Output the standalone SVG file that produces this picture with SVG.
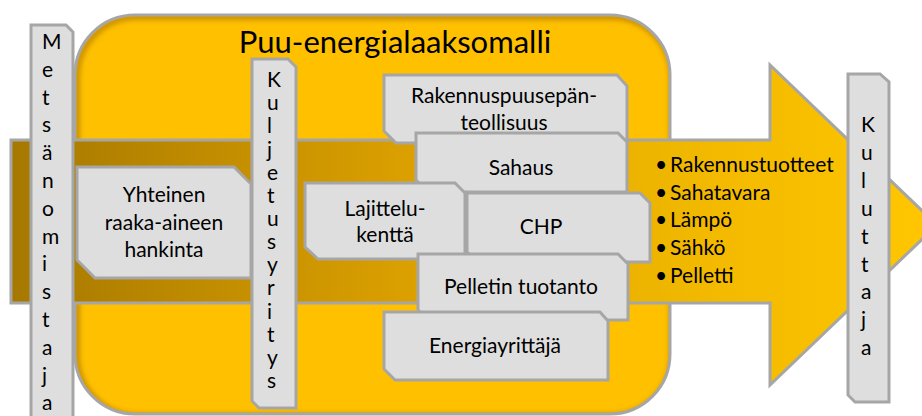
<svg xmlns="http://www.w3.org/2000/svg" width="922" height="416" viewBox="0 0 922 416">
<defs>
<linearGradient id="arrowGrad" gradientUnits="userSpaceOnUse" x1="11" y1="0" x2="935" y2="0">
<stop offset="0" stop-color="#A67800"/>
<stop offset="0.43" stop-color="#DBA000"/>
<stop offset="0.75" stop-color="#F2B900"/>
<stop offset="1" stop-color="#FFC600"/>
</linearGradient>
<clipPath id="frameClip"><rect x="75" y="15" width="595" height="399" rx="60" ry="60"/></clipPath>
<filter id="soft" x="-5%" y="-5%" width="110%" height="110%"><feGaussianBlur stdDeviation="2.5"/></filter>
<style>
.shape{stroke:#A6A6A6;stroke-width:3;stroke-linejoin:miter}
.box{fill:#DEDEDE}
.t{font-family:Lato,"Liberation Sans",sans-serif;font-size:21px;fill:#000}
.c{text-anchor:middle}
</style>
</defs>
<rect width="922" height="416" fill="#FFFFFF"/>
<g id="main-frame">
<rect x="75" y="15" width="595" height="399" rx="60" ry="60" fill="#FFC000"/>
<g clip-path="url(#frameClip)">
<rect x="77" y="17" width="595" height="399" rx="60" ry="60" fill="none" stroke="#C98F00" stroke-width="6" filter="url(#soft)"/>
</g>
<rect class="shape" x="75" y="15" width="595" height="399" rx="60" ry="60" fill="none"/>
<text class="t c" x="395" y="53" style="font-size:31px">Puu-energialaaksomalli</text>
</g>
<g id="connectors">
<path id="flow-arrow" class="shape" fill="url(#arrowGrad)" d="M11,140 H770 V65 L937,225 L770,385 V303 H11 Z"/>
</g>
<g id="outputs">
<text class="t"><tspan x="655" y="172">•</tspan><tspan x="670" y="172">Rakennustuotteet</tspan></text>
<text class="t"><tspan x="655" y="199.5">•</tspan><tspan x="670" y="199.5">Sahatavara</tspan></text>
<text class="t"><tspan x="655" y="227">•</tspan><tspan x="670" y="227">Lämpö</tspan></text>
<text class="t"><tspan x="655" y="255">•</tspan><tspan x="670" y="255">Sähkö</tspan></text>
<text class="t"><tspan x="655" y="283">•</tspan><tspan x="670" y="283">Pelletti</tspan></text>
</g>
<g id="metsanomistaja">
<path class="shape box" d="M31,25 H66 L73,32 V420 H31 Z"/>
<text class="t">
<tspan x="42" y="49">M</tspan><tspan x="42" y="76.8">e</tspan><tspan x="42" y="104.6">t</tspan><tspan x="42" y="132.4">s</tspan><tspan x="42" y="160.2">ä</tspan><tspan x="42" y="188">n</tspan><tspan x="42" y="215.8">o</tspan><tspan x="42" y="243.6">m</tspan><tspan x="42" y="271.4">i</tspan><tspan x="42" y="299.2">s</tspan><tspan x="42" y="327">t</tspan><tspan x="42" y="354.8">a</tspan><tspan x="42" y="382.6">j</tspan><tspan x="42" y="410.4">a</tspan>
</text>
</g>
<g id="yhteinen">
<path class="shape box" d="M77,167 H234 L251,184 V278 H95 L77,260 Z"/>
<text class="t c"><tspan x="164" y="202">Yhteinen</tspan><tspan x="164" y="230">raaka-aineen</tspan><tspan x="164" y="257">hankinta</tspan></text>
</g>
<g id="kuljetusyritys">
<path class="shape box" d="M252,59 H288 L296,67 V408 H259 L252,401 Z"/>
<text class="t">
<tspan x="267" y="87">K</tspan><tspan x="267" y="110.2">u</tspan><tspan x="267" y="133.3">l</tspan><tspan x="267" y="156.5">j</tspan><tspan x="267" y="179.6">e</tspan><tspan x="267" y="202.8">t</tspan><tspan x="267" y="225.9">u</tspan><tspan x="267" y="249.1">s</tspan><tspan x="267" y="272.2">y</tspan><tspan x="267" y="295.4">r</tspan><tspan x="267" y="318.5">i</tspan><tspan x="267" y="341.7">t</tspan><tspan x="267" y="364.8">y</tspan><tspan x="267" y="388">s</tspan>
</text>
</g>
<g id="rakennuspuusepanteollisuus">
<path class="shape box" d="M384,75 H617 L627,86 V143 H396 L384,131 Z"/>
<text class="t c"><tspan x="504" y="103">Rakennuspuusepän-</tspan><tspan x="504" y="130">teollisuus</tspan></text>
</g>
<g id="sahaus">
<path class="shape box" d="M416,133 H618 L627,142 V192 H428 L416,180 Z"/>
<text class="t c" x="521" y="175">Sahaus</text>
</g>
<g id="chp">
<path class="shape box" d="M467,193 H640 L650,203 V262 H477 L467,252 Z"/>
<text class="t c" x="541" y="234">CHP</text>
</g>
<g id="lajittelukentta">
<path class="shape box" d="M305,183 H455 L465,193 V259 H318 L305,247 Z"/>
<text class="t c"><tspan x="385" y="216">Lajittelu-</tspan><tspan x="385" y="242">kenttä</tspan></text>
</g>
<g id="pelletin-tuotanto">
<path class="shape box" d="M418,254 H618 L628,264 V320 H428 L418,310 Z"/>
<text class="t c" x="521" y="294">Pelletin tuotanto</text>
</g>
<g id="energiayrittaja">
<path class="shape box" d="M384,312 H600 L608,321 V380 H395 L384,369 Z"/>
<text class="t c" x="495" y="353">Energiayrittäjä</text>
</g>
<g id="kuluttaja">
<path class="shape box" d="M848,74 H880 L889,82 V402 H855 L848,395 Z"/>
<text class="t">
<tspan x="861" y="132">K</tspan><tspan x="861" y="159.9">u</tspan><tspan x="861" y="187.8">l</tspan><tspan x="861" y="215.7">u</tspan><tspan x="861" y="243.6">t</tspan><tspan x="861" y="271.5">t</tspan><tspan x="861" y="299.4">a</tspan><tspan x="861" y="327.3">j</tspan><tspan x="861" y="355.2">a</tspan>
</text>
</g>
</svg>
